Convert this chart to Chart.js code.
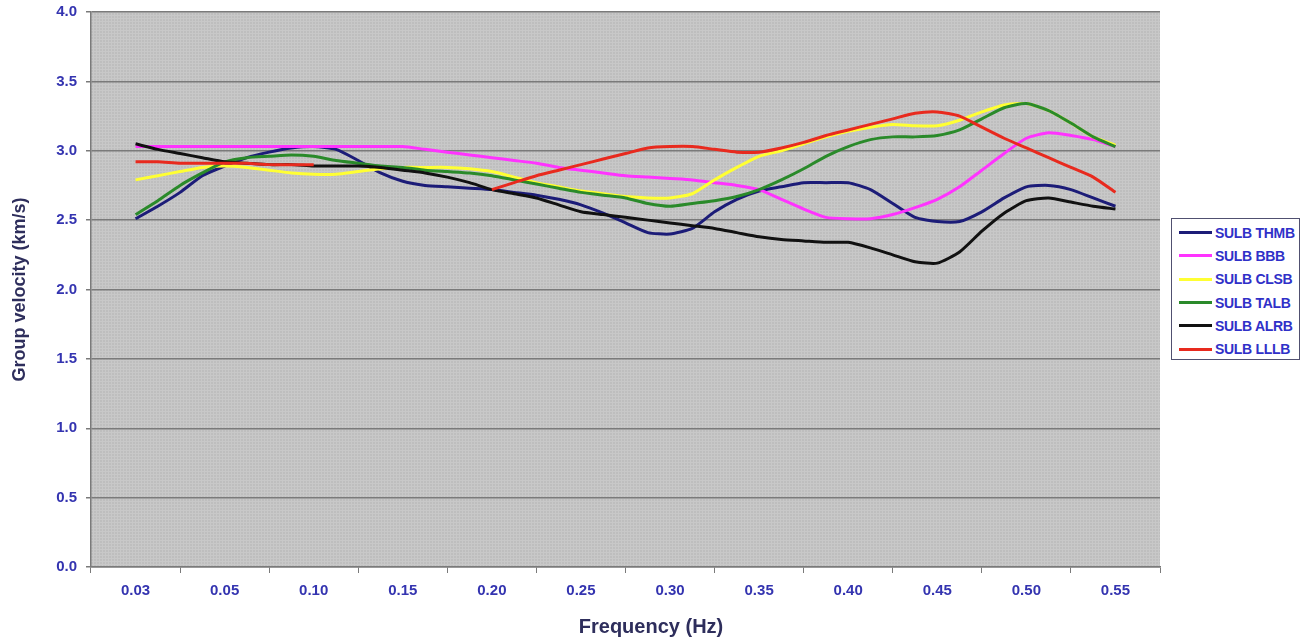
<!DOCTYPE html>
<html>
<head>
<meta charset="utf-8">
<script src="https://cdn.jsdelivr.net/npm/chart.js@4.4.1/dist/chart.umd.min.js"></script>
<style>
  html, body { margin: 0; padding: 0; background: #fff; }
  #wrap { position: relative; width: 1302px; height: 639px; }
  #legend {
    position: absolute; left: 1171px; top: 218px; width: 129px; height: 142px;
    border: 1px solid #505070; background: #fff; box-sizing: border-box; padding-top: 2px;
    font-family: "Liberation Sans", Arial, sans-serif; font-weight: bold; font-size: 14px;
    color: #3030c8; letter-spacing: -0.3px;
  }
  #legend .row { height: 23.3px; display: flex; align-items: center; }
  #legend .swatch { width: 33px; height: 3px; margin-left: 7px; margin-right: 3px; }
</style>
</head>
<body>
<div id="wrap">
  <canvas id="velocityChart" width="1302" height="639"></canvas>
  <div id="legend"></div>
</div>
<script>
// x tick labels (one per category)
const freqLabels = ['0.03', '0.05', '0.10', '0.15', '0.20', '0.25', '0.30', '0.35', '0.40', '0.45', '0.50', '0.55'];

// sample positions along the category axis (0 = first category, 11 = last)
const samplePos = [0, 0.25, 0.5, 0.75, 1, 1.25, 1.5, 1.75, 2, 2.25, 2.5, 2.75, 3, 3.25, 3.5, 3.75,
    4, 4.25, 4.5, 4.75, 5, 5.25, 5.5, 5.75, 6, 6.25, 6.5, 6.75, 7, 7.25, 7.5, 7.75,
    8, 8.25, 8.5, 8.75, 9, 9.25, 9.5, 9.75, 10, 10.25, 10.5, 10.75, 11];

// group velocities (km/s)
const thmb = [2.51, 2.60, 2.70, 2.82, 2.89, 2.95, 2.99, 3.02, 3.03, 3.01, 2.93, 2.84, 2.78, 2.75, 2.74, 2.73,
    2.72, 2.70, 2.68, 2.65, 2.61, 2.55, 2.48, 2.41, 2.40, 2.44, 2.56, 2.65, 2.71, 2.74, 2.77, 2.77,
    2.77, 2.72, 2.62, 2.52, 2.49, 2.49, 2.56, 2.66, 2.74, 2.75, 2.72, 2.66, 2.60];
const bbb = [3.03, 3.03, 3.03, 3.03, 3.03, 3.03, 3.03, 3.03, 3.03, 3.03, 3.03, 3.03, 3.03, 3.01, 2.99, 2.97,
    2.95, 2.93, 2.91, 2.88, 2.86, 2.84, 2.82, 2.81, 2.80, 2.79, 2.77, 2.75, 2.72, 2.65, 2.58, 2.52,
    2.51, 2.51, 2.54, 2.59, 2.65, 2.74, 2.86, 2.98, 3.09, 3.13, 3.11, 3.08, 3.03];
const clsb = [2.79, 2.82, 2.85, 2.88, 2.89, 2.88, 2.86, 2.84, 2.83, 2.83, 2.85, 2.87, 2.88, 2.88, 2.88, 2.87,
    2.85, 2.81, 2.77, 2.74, 2.71, 2.69, 2.67, 2.66, 2.66, 2.69, 2.79, 2.88, 2.96, 3.00, 3.05, 3.10,
    3.14, 3.17, 3.19, 3.18, 3.18, 3.22, 3.28, 3.33, 3.34, 3.29, 3.20, 3.10, 3.04];
const talb = [2.54, 2.64, 2.75, 2.84, 2.92, 2.95, 2.96, 2.97, 2.96, 2.93, 2.91, 2.89, 2.88, 2.86, 2.85, 2.84,
    2.82, 2.79, 2.76, 2.73, 2.70, 2.68, 2.66, 2.62, 2.60, 2.62, 2.64, 2.67, 2.72, 2.79, 2.87, 2.96,
    3.03, 3.08, 3.10, 3.10, 3.11, 3.15, 3.23, 3.31, 3.34, 3.29, 3.20, 3.10, 3.03];
const alrb = [3.05, 3.01, 2.98, 2.95, 2.92, 2.91, 2.90, 2.90, 2.89, 2.89, 2.89, 2.88, 2.86, 2.84, 2.81, 2.77,
    2.72, 2.69, 2.66, 2.61, 2.56, 2.54, 2.52, 2.50, 2.48, 2.46, 2.44, 2.41, 2.38, 2.36, 2.35, 2.34,
    2.34, 2.30, 2.25, 2.20, 2.19, 2.27, 2.42, 2.55, 2.64, 2.66, 2.63, 2.60, 2.58];
const lllb = [2.92, 2.92, 2.91, 2.91, 2.91, 2.91, 2.90, 2.90, 2.90, null, null, null, null, null, null, null,
    2.72, 2.77, 2.82, 2.86, 2.90, 2.94, 2.98, 3.02, 3.03, 3.03, 3.01, 2.99, 2.99, 3.02, 3.06, 3.11,
    3.15, 3.19, 3.23, 3.27, 3.28, 3.25, 3.17, 3.09, 3.02, 2.95, 2.88, 2.81, 2.70];

const seriesNames = ['SULB THMB', 'SULB BBB', 'SULB CLSB', 'SULB TALB', 'SULB ALRB', 'SULB LLLB'];
const seriesColors = ['#1c1c78', '#ff33ff', '#ffff33', '#2a8a2a', '#111111', '#e82a1e'];
const seriesValues = [thmb, bbb, clsb, talb, alrb, lllb];

const FONT = '"Liberation Sans", Arial, sans-serif';
const GRID = '#7a7a7a';

// gray plot area with a fine texture, like the spreadsheet original
const plotBackground = {
    id: 'plotBackground',
    beforeDraw(chart) {
        const { ctx, chartArea: a } = chart;
        const tile = document.createElement('canvas');
        tile.width = 3; tile.height = 3;
        const t = tile.getContext('2d');
        t.fillStyle = '#bebebe';
        t.fillRect(0, 0, 3, 3);
        t.fillStyle = '#c8c8c8';
        t.fillRect(0, 0, 3, 1);
        t.fillRect(0, 0, 1, 3);
        ctx.save();
        ctx.fillStyle = ctx.createPattern(tile, 'repeat');
        ctx.fillRect(a.left, a.top, a.right - a.left, a.bottom - a.top);
        ctx.restore();
    }
};

const datasets = seriesValues.map((vals, i) => ({
    label: seriesNames[i],
    data: samplePos.map((x, j) => ({ x: x, y: vals[j] })),
    borderColor: seriesColors[i],
    backgroundColor: seriesColors[i],
    borderWidth: 3,
    pointRadius: 0,
    tension: 0.2,
    spanGaps: false,
    order: seriesValues.length - i // later series drawn on top
}));

new Chart(document.getElementById('velocityChart'), {
    type: 'line',
    data: { datasets: datasets },
    options: {
        responsive: false,
        animation: false,
        layout: { padding: { top: 12, right: 0, left: 0, bottom: 0 } },
        plugins: {
            legend: { display: false },
            tooltip: { enabled: false },
            title: {
                display: true,
                position: 'bottom',
                text: 'Frequency (Hz)',
                color: '#2e2e5c',
                font: { family: FONT, size: 20, weight: 'bold', lineHeight: 1.2 },
                padding: { top: 0, bottom: 0 }
            }
        },
        scales: {
            x: {
                type: 'linear',
                min: -0.5,
                max: 11.5,
                afterBuildTicks(scale) {
                    scale.ticks = freqLabels.map((l, i) => ({ value: i }));
                },
                afterFit(scale) {
                    scale.height = 48;
                    scale.paddingLeft = 0;
                    scale.paddingRight = 0;
                },
                ticks: {
                    autoSkip: false,
                    maxRotation: 0,
                    padding: 9,
                    color: '#3434b0',
                    font: { family: FONT, size: 15, weight: 'bold' },
                    callback: (v) => freqLabels[Math.round(v)]
                },
                grid: {
                    offset: true,
                    drawOnChartArea: false,
                    drawTicks: true,
                    tickLength: 6,
                    color: GRID
                },
                border: { display: true, color: GRID, width: 1.5 }
            },
            y: {
                min: 0,
                max: 4,
                afterFit(scale) {
                    scale.width = 91;
                    scale.paddingTop = 0;
                    scale.paddingBottom = 0;
                },
                ticks: {
                    stepSize: 0.5,
                    padding: 9,
                    color: '#3434b0',
                    font: { family: FONT, size: 15, weight: 'bold' },
                    callback: (v) => v.toFixed(1)
                },
                grid: { color: GRID, lineWidth: 1.5, tickLength: 5 },
                border: { display: true, color: GRID, width: 1.5 },
                title: {
                    display: true,
                    text: 'Group velocity (km/s)',
                    color: '#2e2e5c',
                    font: { family: FONT, size: 18, weight: 'bold', lineHeight: 1.2 },
                    padding: { top: 9, bottom: 0 }
                }
            },
            // empty axis that only reserves the room taken by the legend box
            legendSpace: {
                position: 'right',
                min: 0,
                max: 4,
                afterFit(scale) {
                    scale.width = 142;
                    scale.paddingTop = 0;
                    scale.paddingBottom = 0;
                },
                ticks: { display: false },
                grid: { display: false },
                border: { display: false }
            }
        }
    },
    plugins: [plotBackground]
});

// boxed legend to the right of the plot
const legendBox = document.getElementById('legend');
seriesNames.forEach((name, i) => {
    const row = document.createElement('div');
    row.className = 'row';
    row.innerHTML = `<span class="swatch" style="background:${seriesColors[i]}"></span><span>${name}</span>`;
    legendBox.appendChild(row);
});
</script>
</body>
</html>
